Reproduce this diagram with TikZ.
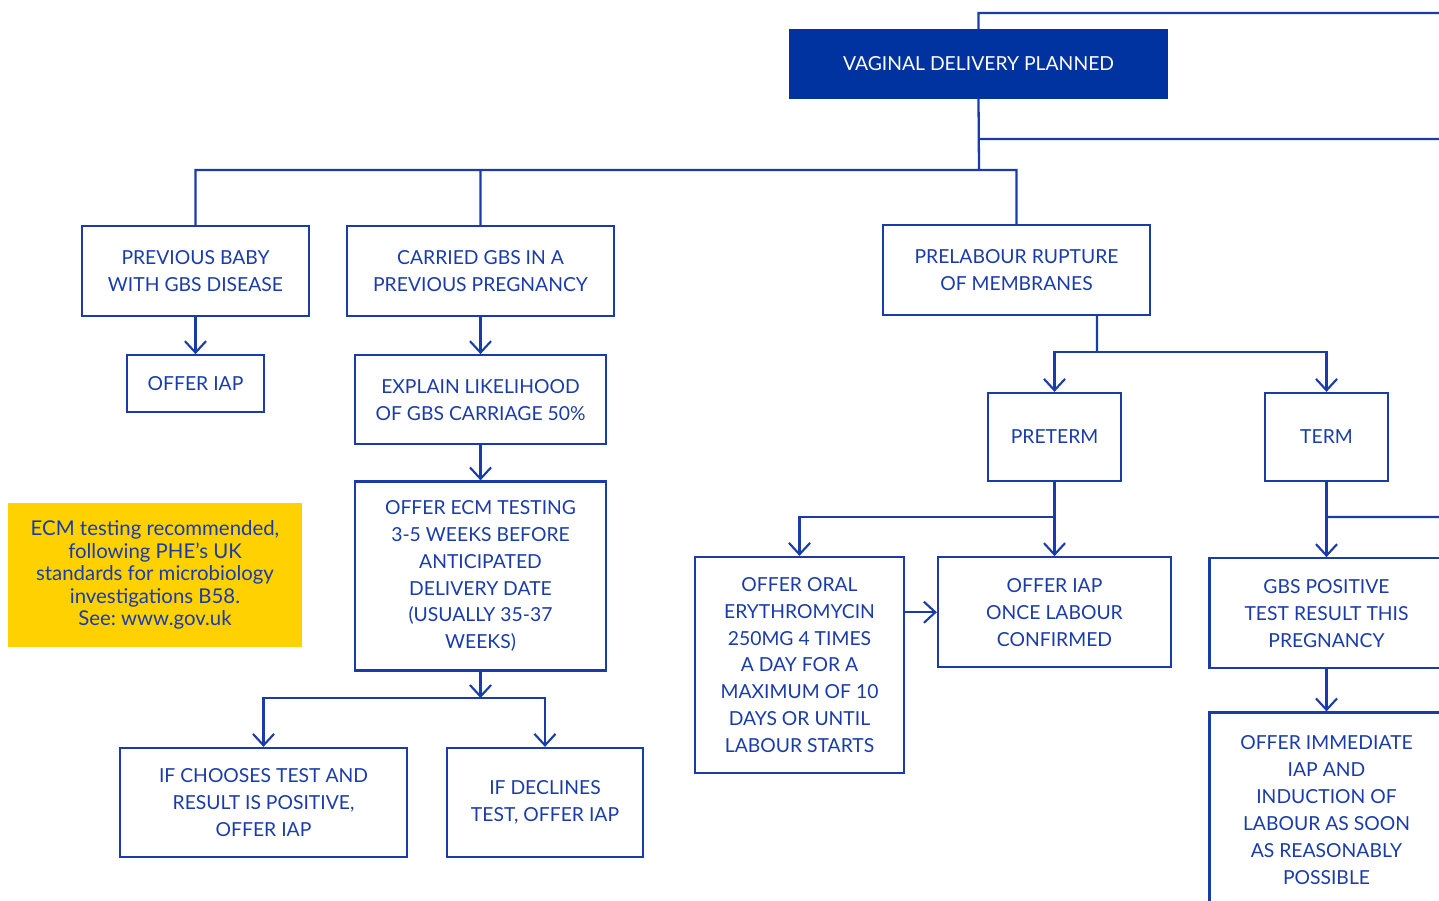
\documentclass[tikz,border=0pt]{standalone}
\usepackage{fontspec}
\setsansfont{Lato}
\usetikzlibrary{arrows.meta,positioning}
\tikzset{>/.tip={Straight Barb[length=6.5pt,width=12pt,line width=1.2pt]}}
\definecolor{gbsblue}{HTML}{0033A0}
\definecolor{lineblue}{HTML}{1A3CAA}
\definecolor{noteyellow}{HTML}{FFD100}
\tikzset{box/.style={draw=lineblue,line width=1.3pt,inner sep=0pt,align=center,text=lineblue}}
\tikzset{link/.style={draw=lineblue,line width=1.3pt}}
\frenchspacing

\begin{document}
\begin{tikzpicture}[x=0.02cm,y=-0.02cm,font=\sffamily\fontsize{11}{15.3}\selectfont]
        \useasboundingbox (0,0) rectangle (1439,900);
        \clip (0,0) rectangle (1439,900);
        % top of the chart
        \node(Plan)[box,fill=gbsblue,draw=gbsblue,text=white,minimum width=7.54cm,minimum height=1.36cm] at (978.5,64) {VAGINAL DELIVERY PLANNED};
        \coordinate(bus) at (979,170);
        \coordinate(offTop) at (1450,13);
        \coordinate(offMid) at (1450,139);
        % first row
        \node(Baby)[box,minimum width=4.54cm,minimum height=1.8cm] at (195.5,271) {PREVIOUS BABY\\WITH GBS DISEASE};
        \node(Carried)[box,minimum width=5.34cm,minimum height=1.8cm] at (480.5,271) {CARRIED GBS IN A\\PREVIOUS PREGNANCY};
        \node(Prom)[box,minimum width=5.34cm,minimum height=1.8cm] at (1016.5,270) {PRELABOUR RUPTURE\\OF MEMBRANES};
        % left branches
        \node(Iap)[box,minimum width=2.74cm,minimum height=1.14cm,below=0.74cm of Baby] {OFFER IAP};
        \node(Explain)[box,minimum width=5.02cm,minimum height=1.78cm,below=0.74cm of Carried] {EXPLAIN LIKELIHOOD\\OF GBS CARRIAGE 50\%};
        \node(Ecm)[box,minimum width=5.02cm,minimum height=3.78cm,below=0.7cm of Explain] {OFFER ECM TESTING\\3-5 WEEKS BEFORE\\ANTICIPATED\\DELIVERY DATE\\(USUALLY 35-37\\WEEKS)};
        \coordinate(fork) at (480.5,698);
        \node(Chooses)[box,minimum width=5.74cm,minimum height=2.18cm] at (263.5,802.5) {IF CHOOSES TEST AND\\RESULT IS POSITIVE,\\OFFER IAP};
        \node(Declines)[box,minimum width=3.92cm,minimum height=2.18cm] at (545,802.5) {IF DECLINES\\TEST, OFFER IAP};
        \node(Note)[fill=noteyellow,text=lineblue,align=center,minimum width=5.88cm,minimum height=2.88cm,inner sep=0pt,font=\sffamily\fontsize{11.6}{12.8}\selectfont] at (155,575) {ECM testing recommended,\\following PHE’s UK\\standards for microbiology\\investigations B58.\\See: www.gov.uk};
        % prelabour rupture
        \coordinate(split) at (1097,352);
        \node(Preterm)[box,minimum width=2.66cm,minimum height=1.76cm] at (1054.5,437) {PRETERM};
        \node(Term)[box,minimum width=2.46cm,minimum height=1.76cm] at (1326.5,437) {TERM};
        \node(Once)[box,minimum width=4.66cm,minimum height=2.2cm,below=1.48cm of Preterm] {OFFER IAP\\ONCE LABOUR\\CONFIRMED};
        \node(Oral)[box,minimum width=4.18cm,minimum height=4.32cm] at (799.5,665) {OFFER ORAL\\ERYTHROMYCIN\\250MG 4 TIMES\\A DAY FOR A\\MAXIMUM OF 10\\DAYS OR UNTIL\\LABOUR STARTS};
        \coordinate(preFork) at (1054.5,517);
        \coordinate(termFork) at (1326.5,517);
        \coordinate(offLow) at (1450,517);
        \node(Positive)[box,minimum width=4.68cm,minimum height=2.2cm,below=1.5cm of Term] {GBS POSITIVE\\TEST RESULT THIS\\PREGNANCY};
        \node(Immediate)[box,minimum width=4.68cm,minimum height=3.9cm,below=0.84cm of Positive] {OFFER IMMEDIATE\\IAP AND\\INDUCTION OF\\LABOUR AS SOON\\AS REASONABLY\\POSSIBLE};
        \draw[link]
        (Plan.north) |- (offTop)
        (Plan.south) -- (bus)
        (Plan.south |- offMid) -- (offMid)
        (Baby.north) |- (bus) -| (Prom.north)
        (Carried.north) -- (Carried.north |- bus)
        (Prom.south -| split) -- (split)
        (termFork) -- (offLow);
        \draw[link,->] (Baby) -- (Iap);
        \draw[link,->] (Carried) -- (Explain);
        \draw[link,->] (Explain) -- (Ecm);
        \draw[link,->] (Ecm) -- (fork);
        \draw[link,->] (fork) -| (Chooses.north);
        \draw[link,->] (fork) -| (Declines.north);
        \draw[link,->] (split) -| (Preterm.north);
        \draw[link,->] (split) -| (Term.north);
        \draw[link,->] (Preterm) -- (Once);
        \draw[link,->] (preFork) -| (Oral.north);
        \draw[link,->] (Oral.east |- Once) -- (Once.west);
        \draw[link,->] (Term) -- (Positive);
        \draw[link,->] (Positive) -- (Immediate);
      \end{tikzpicture}
\end{document}
